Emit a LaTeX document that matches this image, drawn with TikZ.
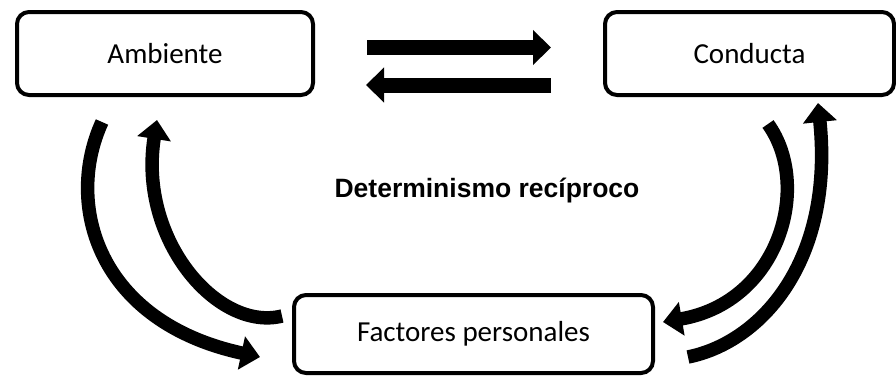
\documentclass[tikz,border=0pt]{standalone}
\usepackage{fontspec}
\setmainfont{Carlito}
\setsansfont{Liberation Sans}
\usepackage{tikz}
\usetikzlibrary{arrows.meta}

\begin{document}
\begin{tikzpicture}[x=1pt, y=-1pt,
  box/.style={draw, line width=4pt, rounded corners=12pt, inner sep=0pt,
    font=\fontsize{29}{35}\selectfont},
  flatarrow/.style={line width=15pt, -{Triangle[length=18pt, width=34pt]}},
  bentarrow/.style={line width=13.5pt, -{Triangle[length=19pt, width=33pt]}}]
  \useasboundingbox (0,0) rectangle (896,376);
  \node[box, minimum width=296pt, minimum height=83pt] (amb) at (165,53.5) {Ambiente};
  \node[box, minimum width=289pt, minimum height=83pt] (con) at (749.5,53.5) {Conducta};
  \node[box, minimum width=359pt, minimum height=78pt] (fac) at (473.5,334) {Factores personales};
  \node[font=\fontsize{26.5}{32}\sffamily\bfseries\selectfont, anchor=base] (title) at (487,197) {Determinismo recíproco};
  % ends of the arrows
  \coordinate (r1) at (367,47.5);
  \coordinate (r2) at (551,47.5);
  \coordinate (l1) at (551,85);
  \coordinate (l2) at (366,85);
  \coordinate (ao) at (102,122);
  \coordinate (fo) at (260,357);
  \coordinate (fi) at (282,316);
  \coordinate (ai) at (157,120);
  \coordinate (ci) at (768,124);
  \coordinate (gi) at (663,322);
  \coordinate (go) at (688,357);
  \coordinate (co) at (818,103);
  \draw[flatarrow] (r1) -- (r2);
  \draw[flatarrow] (l1) -- (l2);
  \draw[bentarrow] (ao) .. controls (64,205) and (98,322) .. (fo);
  \draw[bentarrow] (fi) .. controls (218,332) and (138,240) .. (ai);
  \draw[bentarrow] (ci) .. controls (812,185) and (780,302) .. (gi);
  \draw[bentarrow] (go) .. controls (762,342) and (834,260) .. (co);
\end{tikzpicture}
\end{document}
